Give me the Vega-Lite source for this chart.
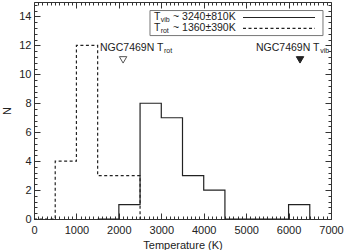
{
  "$schema": "https://vega.github.io/schema/vega-lite/v6.json",
  "width": 297,
  "height": 217,
  "autosize": {"type": "none"},
  "padding": {"left": 34, "top": 2, "right": 13, "bottom": 31},
  "background": "white",
  "config": {
    "view": {"stroke": null},
    "font": "Liberation Sans",
    "axis": {
      "grid": false,
      "domainColor": "#333",
      "tickColor": "#333",
      "labelColor": "#222",
      "titleColor": "#222",
      "labelFont": "Liberation Sans",
      "titleFont": "Liberation Sans",
      "labelFontSize": 11,
      "titleFontSize": 11,
      "titleFontWeight": "normal",
      "labelFlush": false,
      "labelOverlap": false,
      "tickWidth": 1,
      "domainWidth": 1
    }
  },
  "datasets": {
    "hist": [
      {"T": 1500, "N": 0, "series": "vib"},
      {"T": 2000, "N": 1, "series": "vib"},
      {"T": 2500, "N": 8, "series": "vib"},
      {"T": 3000, "N": 7, "series": "vib"},
      {"T": 3500, "N": 3, "series": "vib"},
      {"T": 4000, "N": 2, "series": "vib"},
      {"T": 4500, "N": 0, "series": "vib"},
      {"T": 5000, "N": 0, "series": "vib"},
      {"T": 5500, "N": 0, "series": "vib"},
      {"T": 6000, "N": 1, "series": "vib"},
      {"T": 6500, "N": 0, "series": "vib"},
      {"T": 0, "N": 0, "series": "rot"},
      {"T": 500, "N": 4, "series": "rot"},
      {"T": 1000, "N": 12, "series": "rot"},
      {"T": 1500, "N": 3, "series": "rot"},
      {"T": 2000, "N": 3, "series": "rot"},
      {"T": 2500, "N": 0, "series": "rot"}
    ]
  },
  "layer": [
    {
      "data": {"name": "hist"},
      "mark": {"type": "line", "interpolate": "step-after", "color": "#222", "strokeWidth": 1.2},
      "encoding": {
        "x": {
          "field": "T", "type": "quantitative",
          "scale": {"domain": [0, 7000], "nice": false, "zero": false},
          "axis": {
            "orient": "bottom",
            "title": "Temperature (K)",
            "values": [0,100,200,300,400,500,600,700,800,900,1000,1100,1200,1300,1400,1500,1600,1700,1800,1900,2000,2100,2200,2300,2400,2500,2600,2700,2800,2900,3000,3100,3200,3300,3400,3500,3600,3700,3800,3900,4000,4100,4200,4300,4400,4500,4600,4700,4800,4900,5000,5100,5200,5300,5400,5500,5600,5700,5800,5900,6000,6100,6200,6300,6400,6500,6600,6700,6800,6900,7000],
            "labelExpr": "datum.value % 1000 === 0 ? datum.label : ''",
            "format": "d",
            "tickSize": {"expr": "datum.value % 1000 === 0 ? -6 : -3"},
            "labelPadding": 11,
            "titlePadding": 1
          }
        },
        "y": {
          "field": "N", "type": "quantitative",
          "scale": {"domain": [0, 15], "nice": false, "zero": false},
          "axis": {
            "orient": "left",
            "title": "N",
            "values": [0,0.4,0.8,1.2,1.6,2,2.4,2.8,3.2,3.6,4,4.4,4.8,5.2,5.6,6,6.4,6.8,7.2,7.6,8,8.4,8.8,9.2,9.6,10,10.4,10.8,11.2,11.6,12,12.4,12.8,13.2,13.6,14,14.4,14.8],
            "labelExpr": "abs(datum.value % 2) < 0.001 ? format(datum.value, 'd') : ''",
            "tickSize": {"expr": "abs(datum.value % 2) < 0.001 ? -6 : -3"},
            "labelPadding": 9,
            "titlePadding": 6
          }
        },
        "strokeDash": {
          "field": "series", "type": "nominal",
          "scale": {"domain": ["vib", "rot"], "range": [[1, 0], [3, 2.5]]},
          "legend": null
        },
        "detail": {"field": "series"}
      }
    },
    {
      "data": {"values": [{"x1": 2734, "x2": 6811, "y1": 12.68, "y2": 14.41}]},
      "mark": {"type": "rect", "fill": null, "fillOpacity": 0, "stroke": "#777", "strokeWidth": 1},
      "encoding": {
        "x": {"field": "x1", "type": "quantitative", "axis": null},
        "x2": {"field": "x2"},
        "y": {"field": "y1", "type": "quantitative", "axis": null},
        "y2": {"field": "y2"}
      }
    },
    {
      "data": {"values": [
        {"x1": 4926, "x2": 6623, "y": 13.93, "series": "vib"},
        {"x1": 4926, "x2": 6623, "y": 13.17, "series": "rot"}
      ]},
      "mark": {"type": "rule", "color": "#222", "strokeWidth": 1.2},
      "encoding": {
        "x": {"field": "x1", "type": "quantitative", "axis": null},
        "x2": {"field": "x2"},
        "y": {"field": "y", "type": "quantitative", "axis": null},
        "strokeDash": {
          "field": "series", "type": "nominal",
          "scale": {"domain": ["vib", "rot"], "range": [[1, 0], [3, 2.5]]},
          "legend": null
        }
      }
    },
    {
      "data": {"values": [
        {"x": 2828, "y": 13.96, "text": "T"},
        {"x": 3276, "y": 13.96, "text": "~ 3240±810K"},
        {"x": 2828, "y": 13.20, "text": "T"},
        {"x": 3276, "y": 13.20, "text": "~ 1360±390K"},
        {"x": 1555, "y": 11.85, "text": "NGC7469N T"},
        {"x": 5232, "y": 11.85, "text": "NGC7469N T"}
      ]},
      "mark": {"type": "text", "align": "left", "baseline": "middle", "fontSize": 10.5, "color": "#222", "font": "Liberation Sans"},
      "encoding": {
        "x": {"field": "x", "type": "quantitative", "axis": null},
        "y": {"field": "y", "type": "quantitative", "axis": null},
        "text": {"field": "text"}
      }
    },
    {
      "data": {"values": [
        {"x": 2985, "y": 13.96, "text": "vib"},
        {"x": 2985, "y": 13.20, "text": "rot"},
        {"x": 3064, "y": 11.85, "text": "rot"},
        {"x": 6745, "y": 11.85, "text": "vib"}
      ]},
      "mark": {"type": "text", "align": "left", "baseline": "middle", "fontSize": 7, "dy": 3, "color": "#222", "font": "Liberation Sans"},
      "encoding": {
        "x": {"field": "x", "type": "quantitative", "axis": null},
        "y": {"field": "y", "type": "quantitative", "axis": null},
        "text": {"field": "text"}
      }
    },
    {
      "data": {"values": [
        {"T": 2100, "N": 11.0, "kind": "rot"},
        {"T": 6270, "N": 11.0, "kind": "vib"}
      ]},
      "mark": {"type": "point", "shape": "triangle-down", "size": 55, "strokeWidth": 1, "opacity": 1},
      "encoding": {
        "x": {
          "field": "T", "type": "quantitative",
          "axis": {
            "orient": "top", "title": null, "labels": false,
            "values": [0,100,200,300,400,500,600,700,800,900,1000,1100,1200,1300,1400,1500,1600,1700,1800,1900,2000,2100,2200,2300,2400,2500,2600,2700,2800,2900,3000,3100,3200,3300,3400,3500,3600,3700,3800,3900,4000,4100,4200,4300,4400,4500,4600,4700,4800,4900,5000,5100,5200,5300,5400,5500,5600,5700,5800,5900,6000,6100,6200,6300,6400,6500,6600,6700,6800,6900,7000],
            "tickSize": {"expr": "datum.value % 1000 === 0 ? -6 : -3"}
          }
        },
        "y": {
          "field": "N", "type": "quantitative",
          "axis": {
            "orient": "right", "title": null, "labels": false,
            "values": [0,0.4,0.8,1.2,1.6,2,2.4,2.8,3.2,3.6,4,4.4,4.8,5.2,5.6,6,6.4,6.8,7.2,7.6,8,8.4,8.8,9.2,9.6,10,10.4,10.8,11.2,11.6,12,12.4,12.8,13.2,13.6,14,14.4,14.8],
            "tickSize": {"expr": "abs(datum.value % 2) < 0.001 ? -6 : -3"}
          }
        },
        "fill": {
          "field": "kind", "type": "nominal",
          "scale": {"domain": ["rot", "vib"], "range": ["white", "#222"]},
          "legend": null
        },
        "stroke": {
          "field": "kind", "type": "nominal",
          "scale": {"domain": ["rot", "vib"], "range": ["#555", "#222"]},
          "legend": null
        }
      }
    }
  ],
  "resolve": {
    "scale": {"x": "shared", "y": "shared", "fill": "independent", "stroke": "independent"},
    "axis": {"x": "independent", "y": "independent"}
  }
}
